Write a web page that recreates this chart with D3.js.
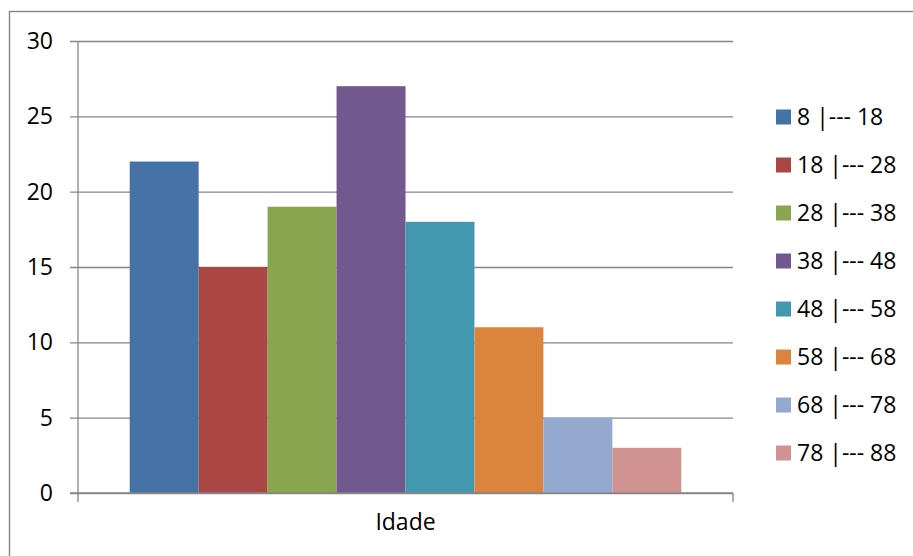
<!DOCTYPE html>
<html>
<head>
<meta charset="utf-8">
<script src="https://cdn.jsdelivr.net/npm/d3@7/dist/d3.min.js"></script>
<style>
  html, body { margin: 0; padding: 0; background: #fff; }
  svg { display: block; font-family: "Open Sans", sans-serif; }
</style>
</head>
<body>
<svg id="chart" width="913" height="556"></svg>
<script>
// Age-group frequencies
const category = "Idade";
const seriesNames = ["8 |--- 18", "18 |--- 28", "28 |--- 38", "38 |--- 48",
                     "48 |--- 58", "58 |--- 68", "68 |--- 78", "78 |--- 88"];
const seriesValues = [22, 15, 19, 27, 18, 11, 5, 3];
const seriesColors = ["#4572A7", "#AA4643", "#89A54E", "#71588F",
                      "#4198AF", "#DB843D", "#93A9CF", "#D19392"];
const yTicks = [0, 5, 10, 15, 20, 25, 30];

const svg = d3.select("#chart");
const plot = { left: 78, right: 733, top: 41, bottom: 493 };
const axisColor = "#868686";
const fontSize = 23;

// Outer chart frame (extends past the right/bottom edges)
svg.append("rect")
  .attr("x", 9.5).attr("y", 11.5)
  .attr("width", 920).attr("height", 560)
  .attr("fill", "none")
  .attr("stroke", axisColor)
  .attr("stroke-width", 1.4);

const y = d3.scaleLinear().domain([0, 30]).range([plot.bottom, plot.top]);
const x = d3.scaleBand()
  .domain(seriesNames)
  .range([plot.left, plot.right])
  .paddingInner(0)
  .paddingOuter(0.75);

// Horizontal gridlines with left tick marks
const yAxis = d3.axisLeft(y)
  .tickValues(yTicks)
  .tickSize(-(plot.right - plot.left))
  .tickPadding(25)
  .tickFormat(d3.format("d"));

const gy = svg.append("g")
  .attr("transform", `translate(${plot.left},0)`)
  .call(yAxis);
gy.select(".domain").remove();
gy.selectAll(".tick line")
  .attr("x1", -8)
  .attr("stroke", axisColor)
  .attr("stroke-width", 1.3);
gy.selectAll(".tick text")
  .attr("font-size", fontSize)
  .attr("fill", "#000")
  .attr("font-family", "'Open Sans', sans-serif");

// Bars
svg.append("g").selectAll("rect")
  .data(seriesNames)
  .join("rect")
  .attr("x", d => x(d))
  .attr("width", x.bandwidth())
  .attr("y", (d, i) => y(seriesValues[i]))
  .attr("height", (d, i) => y(0) - y(seriesValues[i]))
  .attr("fill", (d, i) => seriesColors[i]);

// Vertical axis line
svg.append("line")
  .attr("x1", plot.left).attr("x2", plot.left)
  .attr("y1", plot.top).attr("y2", plot.bottom + 9)
  .attr("stroke", axisColor).attr("stroke-width", 1.3);

// Category axis
const x0 = d3.scaleBand().domain([category]).range([plot.left, plot.right]);
const xAxis = d3.axisBottom(x0).tickSize(0).tickPadding(21);
const gx = svg.append("g")
  .attr("transform", `translate(0,${plot.bottom})`)
  .call(xAxis);
gx.select(".domain").remove();
gx.selectAll(".tick text")
  .attr("font-size", fontSize)
  .attr("fill", "#000")
  .attr("font-family", "'Open Sans', sans-serif");

svg.append("line")
  .attr("x1", plot.left - 8).attr("x2", plot.right)
  .attr("y1", plot.bottom).attr("y2", plot.bottom)
  .attr("stroke", axisColor).attr("stroke-width", 1.3);
svg.append("line")
  .attr("x1", plot.right).attr("x2", plot.right)
  .attr("y1", plot.bottom).attr("y2", plot.bottom + 9)
  .attr("stroke", axisColor).attr("stroke-width", 1.3);

// Legend
const legend = svg.append("g").attr("transform", "translate(776,117)");
const rows = legend.selectAll("g")
  .data(seriesNames)
  .join("g")
  .attr("transform", (d, i) => `translate(0,${i * 48})`);
rows.append("rect")
  .attr("x", 0).attr("y", -7.5)
  .attr("width", 15).attr("height", 15)
  .attr("fill", (d, i) => seriesColors[i]);
rows.append("text")
  .attr("x", 21).attr("y", 0)
  .attr("dy", "0.36em")
  .attr("font-size", fontSize)
  .attr("fill", "#000")
  .text(d => d);
</script>
</body>
</html>
